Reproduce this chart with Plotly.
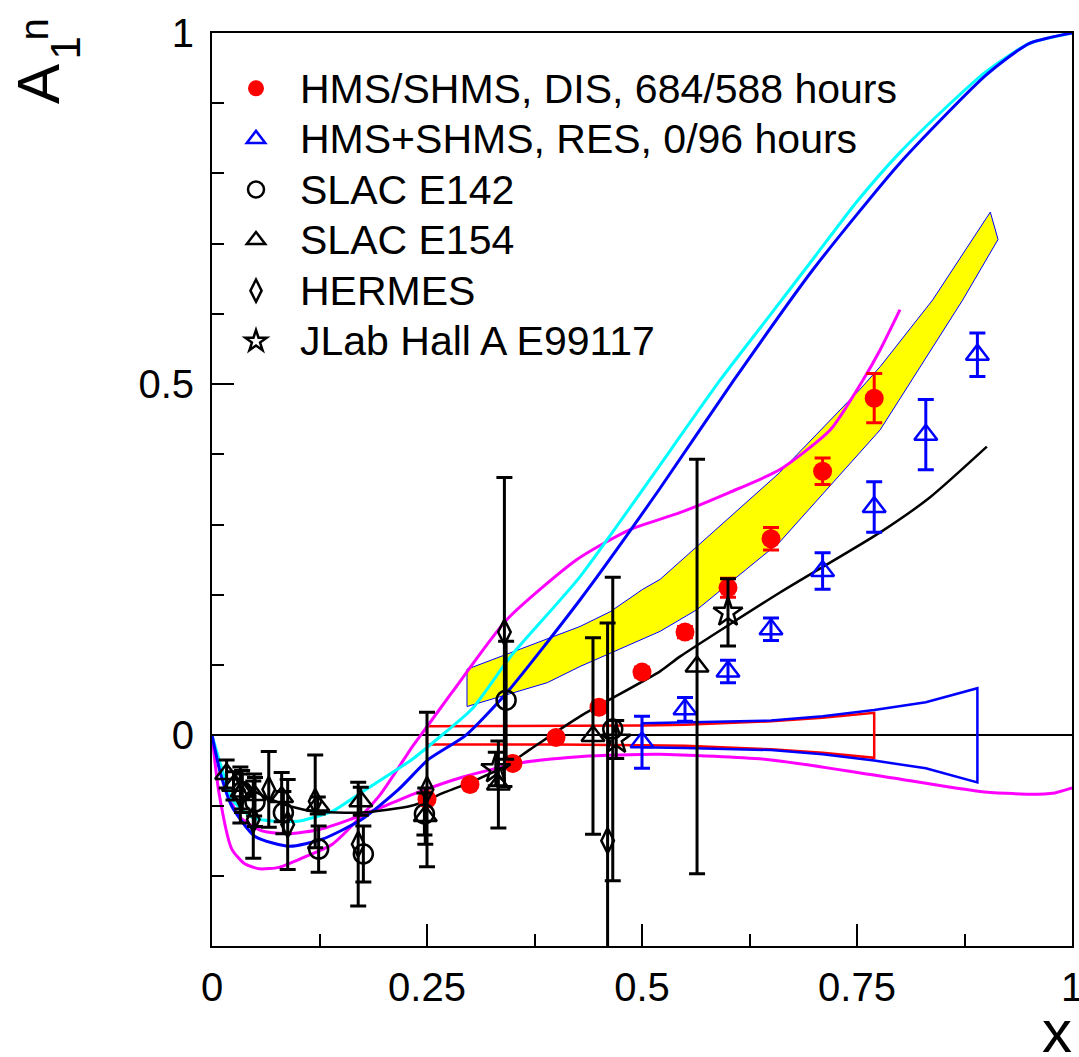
import plotly.graph_objects as go

# ---------------- data ----------------
dis_x = [0.25, 0.30, 0.35, 0.40, 0.45, 0.50, 0.55, 0.60, 0.65, 0.71, 0.77]
dis_y = [-0.091, -0.070, -0.040, -0.003, 0.040, 0.090, 0.147, 0.210, 0.280, 0.376, 0.480]
dis_err = [0.005, 0.005, 0.005, 0.006, 0.006, 0.007, 0.008, 0.0135, 0.016, 0.019, 0.035]
dis_sys = [0.013, 0.013, 0.013, 0.013, 0.013, 0.014, 0.015, 0.017, 0.020, 0.025, 0.032]

res_x = [0.50, 0.55, 0.60, 0.65, 0.71, 0.77, 0.83, 0.89]
res_y = [-0.010, 0.037, 0.091, 0.151, 0.234, 0.325, 0.428, 0.542]
res_err = [0.037, 0.017, 0.016, 0.016, 0.026, 0.036, 0.050, 0.031]
res_sys = [0.017, 0.018, 0.019, 0.021, 0.027, 0.036, 0.047, 0.067]

e142_x = [0.035, 0.050, 0.083, 0.124, 0.176, 0.247, 0.342, 0.466]
e142_y = [-0.080, -0.095, -0.110, -0.162, -0.169, -0.112, 0.050, 0.009]
e142_err = [0.030, 0.035, 0.030, 0.033, 0.040, 0.030, 0.084, 0.216]

e154_x = [0.017, 0.025, 0.035, 0.049, 0.081, 0.123, 0.173, 0.248, 0.333, 0.443, 0.564]
e154_y = [-0.055, -0.072, -0.080, -0.085, -0.088, -0.100, -0.094, -0.115, -0.070, -0.001, 0.098]
e154_err = [0.020, 0.020, 0.025, 0.030, 0.035, 0.012, 0.020, 0.040, 0.062, 0.140, 0.295]

hermes_x = [0.033, 0.048, 0.066, 0.088, 0.120, 0.170, 0.250, 0.340, 0.460]
hermes_y = [-0.085, -0.120, -0.077, -0.127, -0.094, -0.155, -0.077, 0.147, -0.150]
hermes_err = [0.040, 0.055, 0.054, 0.064, 0.066, 0.088, 0.110, 0.220, 0.310]

jlab_x = [0.33, 0.47, 0.60]
jlab_y = [-0.048, -0.006, 0.175]
jlab_err = [0.024, 0.027, 0.048]

# model curves
cyan_x = [0, 0.012, 0.023, 0.047, 0.07, 0.102, 0.14, 0.174, 0.233, 0.271, 0.302, 0.349, 0.428,
          0.591, 0.65, 0.70, 0.75, 0.80, 0.85, 0.90, 0.95, 1.0]
cyan_y = [0, -0.050, -0.091, -0.117, -0.122, -0.122, -0.108, -0.081, -0.034, 0.004, 0.037, 0.115, 0.226,
          0.506, 0.600, 0.680, 0.760, 0.830, 0.890, 0.945, 0.985, 1.0]

blue_x = [0, 0.010, 0.023, 0.050, 0.090, 0.128, 0.174, 0.217, 0.252, 0.295, 0.343, 0.428, 0.520,
          0.607, 0.70, 0.80, 0.90, 0.95, 1.0]
blue_y = [0, -0.055, -0.101, -0.144, -0.158, -0.148, -0.120, -0.077, -0.034, 0.0, 0.061, 0.193, 0.350,
          0.506, 0.665, 0.815, 0.940, 0.985, 1.0]

mag1_x = [0, 0.008, 0.023, 0.038, 0.055, 0.078, 0.108, 0.14, 0.194, 0.233, 0.248, 0.279, 0.343,
          0.424, 0.486, 0.544, 0.602, 0.66, 0.719, 0.757, 0.777, 0.80]
mag1_y = [0, -0.081, -0.162, -0.183, -0.190, -0.188, -0.173, -0.155, -0.087, -0.016, 0.009, 0.061, 0.165,
          0.250, 0.293, 0.317, 0.346, 0.378, 0.435, 0.506, 0.549, 0.606]

mag2_x = [0, 0.012, 0.031, 0.058, 0.09, 0.125, 0.16, 0.20, 0.24, 0.29, 0.36, 0.43, 0.52, 0.65,
          0.777, 0.893, 0.951, 0.98, 1.0]
mag2_y = [0, -0.060, -0.115, -0.136, -0.140, -0.134, -0.120, -0.101, -0.081, -0.060, -0.039, -0.030,
          -0.027, -0.035, -0.058, -0.080, -0.084, -0.082, -0.075]

black_x = [0.03, 0.05, 0.08, 0.116, 0.174, 0.233, 0.271, 0.308, 0.341, 0.37, 0.428, 0.521, 0.544,
           0.66, 0.777, 0.835, 0.901]
black_y = [-0.062, -0.080, -0.097, -0.108, -0.110, -0.100, -0.081, -0.063, -0.044, -0.020, 0.027, 0.091,
           0.112, 0.203, 0.289, 0.339, 0.411]

band_up_x = [0.2965, 0.39, 0.428, 0.463, 0.501, 0.521, 0.564, 0.66, 0.753, 0.777, 0.838, 0.905]
band_up_y = [0.094, 0.137, 0.155, 0.176, 0.208, 0.222, 0.269, 0.374, 0.492, 0.525, 0.620, 0.745]
band_lo_x = [0.2965, 0.39, 0.428, 0.521, 0.564, 0.66, 0.777, 0.873, 0.914]
band_lo_y = [0.041, 0.075, 0.098, 0.148, 0.179, 0.275, 0.435, 0.620, 0.706]

x_ticks = [0, 0.25, 0.5, 0.75, 1]
x_ticktext = ["0", "0.25", "0.5", "0.75", "1"]
y_ticks = [0, 0.5, 1]
y_ticktext = ["0", "0.5", "1"]

FONT = "Liberation Sans, Arial, Helvetica, sans-serif"
RED, BLUE, CYAN, MAG, YEL = "#ff0000", "#0000ff", "#00ffff", "#ff00ff", "#ffff00"

fig = go.Figure()

# yellow band
fig.add_trace(go.Scatter(
    x=band_up_x + band_lo_x[::-1] + band_up_x[:1],
    y=band_up_y + band_lo_y[::-1] + band_up_y[:1],
    fill="toself", fillcolor=YEL, mode="lines",
    line=dict(color=BLUE, width=1), showlegend=False, hoverinfo="skip"))

# systematic boxes
fig.add_trace(go.Scatter(
    x=dis_x + dis_x[::-1] + dis_x[:1],
    y=dis_sys + [-s for s in dis_sys[::-1]] + dis_sys[:1],
    mode="lines", line=dict(color=RED, width=2.5), showlegend=False, hoverinfo="skip"))
fig.add_trace(go.Scatter(
    x=res_x + res_x[::-1] + res_x[:1],
    y=res_sys + [-s for s in res_sys[::-1]] + res_sys[:1],
    mode="lines", line=dict(color=BLUE, width=2.5), showlegend=False, hoverinfo="skip"))

# model curves
for cx, cy, col, w in [(mag2_x, mag2_y, MAG, 3), (mag1_x, mag1_y, MAG, 3),
                       (cyan_x, cyan_y, CYAN, 3), (blue_x, blue_y, BLUE, 3),
                       (black_x, black_y, "black", 2.5)]:
    fig.add_trace(go.Scatter(x=cx, y=cy, mode="lines",
                             line=dict(color=col, width=w, shape="spline", smoothing=0.6),
                             showlegend=False, hoverinfo="skip"))

LEG_SPAN = '<span style="font-size:41px">{}</span>'

def pts(x, y, err, name, symbol, color, size, lw=2.5):
    fig.add_trace(go.Scatter(
        x=x, y=y, mode="markers", name=LEG_SPAN.format(name),
        marker=dict(symbol=symbol, size=size, color=color, line=dict(color=color, width=lw)),
        error_y=dict(type="data", array=err, visible=True, thickness=3, width=8, color=color)))

pts(dis_x, dis_y, dis_err, "HMS/SHMS, DIS, 684/588 hours", "circle", RED, 19, 0)
pts(res_x, res_y, res_err, "HMS+SHMS, RES, 0/96 hours", "triangle-up-open", BLUE, 20)
pts(e142_x, e142_y, e142_err, "SLAC E142", "circle-open", "black", 19)
pts(e154_x, e154_y, e154_err, "SLAC E154", "triangle-up-open", "black", 20)
pts(hermes_x, hermes_y, hermes_err, "HERMES", "diamond-tall-open", "black", 18)
pts(jlab_x, jlab_y, jlab_err, "JLab Hall A E99117", "star-open", "black", 22)

axis_common = dict(showline=True, linecolor="black", linewidth=2, mirror=True,
                   ticks="inside", tickwidth=2, ticklen=22, tickcolor="black",
                   showgrid=False, ticklabeloverflow="allow",
                   tickfont=dict(family=FONT, size=40, color="black"))

fig.update_layout(
    width=1079, height=1057,
    margin=dict(l=212, r=7, t=33, b=111, autoexpand=False),
    paper_bgcolor="white", plot_bgcolor="white",
    font=dict(family=FONT, color="black"),
    xaxis=dict(range=[0, 1], tickvals=x_ticks, ticktext=x_ticktext, zeroline=False,
               ticklabelstandoff=5,
               minor=dict(dtick=0.125, ticklen=12, tickwidth=2, tickcolor="black", ticks="inside"),
               **axis_common),
    yaxis=dict(range=[-0.3, 1], tickvals=y_ticks, ticktext=y_ticktext,
               zeroline=True, zerolinecolor="black", zerolinewidth=2,
               ticklabelstandoff=8,
               minor=dict(dtick=0.1, ticklen=12, tickwidth=2, tickcolor="black", ticks="inside"),
               **axis_common),
    legend=dict(x=0.0, y=0.9726, xanchor="left", yanchor="top", itemwidth=78,
                bgcolor="rgba(0,0,0,0)", font=dict(family=FONT, size=36.6, color="black"),
                itemsizing="trace", tracegroupgap=0),
    annotations=[
        dict(text="A", xref="paper", yref="paper", x=-0.2017, y=0.9436,
             xanchor="center", yanchor="middle", textangle=-90, showarrow=False,
             font=dict(family=FONT, size=60, color="black")),
        dict(text="1", xref="paper", yref="paper", x=-0.1698, y=0.9841,
             xanchor="center", yanchor="middle", textangle=-90, showarrow=False,
             font=dict(family=FONT, size=42, color="black")),
        dict(text="n", xref="paper", yref="paper", x=-0.2070, y=1.0038,
             xanchor="center", yanchor="middle", textangle=-90, showarrow=False,
             font=dict(family=FONT, size=40, color="black")),
        dict(text="x", xref="paper", yref="paper", x=0.983, y=-0.094, xanchor="center",
             yanchor="middle", showarrow=False,
             font=dict(family=FONT, size=60, color="black")),
    ],
)

# remove the default 8px page margin so the figure fills the window exactly
fig.write_html("out.html", config={"displayModeBar": False},
               post_script="document.body.style.margin='0';document.body.style.overflow='hidden';")
